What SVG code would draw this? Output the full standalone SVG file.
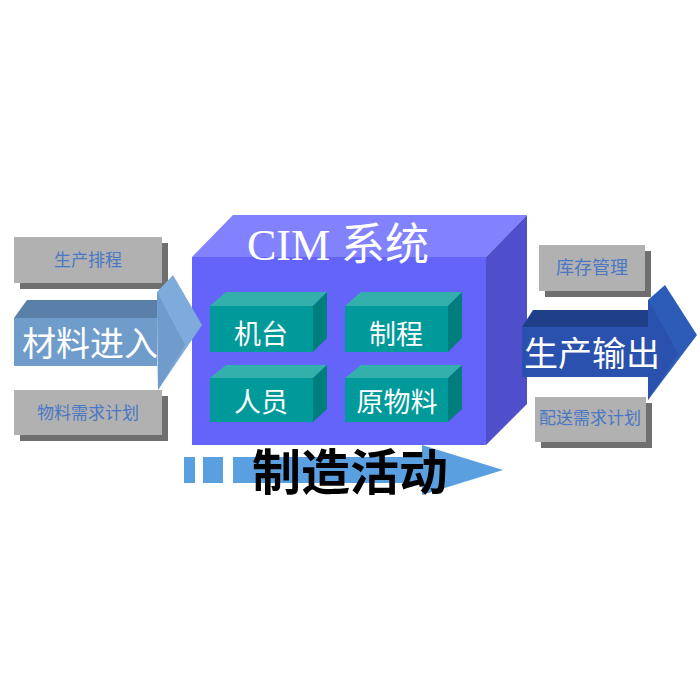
<svg xmlns="http://www.w3.org/2000/svg" width="700" height="700" viewBox="0 0 700 700">
<style>
.gbox{fill:#b1b1b1}
.gshadow{fill:#6f6f6f}
.glabel{font-family:"Noto Sans CJK SC","Noto Sans",sans-serif;font-size:17px;fill:#4a78c4;text-anchor:middle}
.big{font-family:"Noto Sans CJK SC","Noto Sans",sans-serif;font-size:34px;fill:#ffffff;text-anchor:middle}
.tfront{fill:#009a9a}
.ttop{fill:#34b0ac}
.tside{fill:#007d7d}
.tlabel{font-family:"Noto Sans CJK SC","Noto Sans",sans-serif;font-size:27px;fill:#ffffff;text-anchor:middle}
</style>
<rect width="700" height="700" fill="#ffffff"/>

<g id="flow-arrow">
<rect x="184" y="457" width="11" height="26" fill="#5aa0e0"/>
<rect x="203" y="457" width="20" height="26" fill="#5aa0e0"/>
<polygon points="233,457 422,457 422,445 503,470 422,495 422,483 233,483" fill="#5aa0e0"/>
</g>

<g id="box-schedule">
<rect class="gshadow" x="20" y="243" width="148" height="46"/>
<rect class="gbox" x="14" y="237" width="148" height="46"/>
<text class="glabel" x="88" y="266">生产排程</text>
</g>
<g id="box-mrp">
<rect class="gshadow" x="20" y="396" width="148" height="45"/>
<rect class="gbox" x="14" y="390" width="148" height="45"/>
<text class="glabel" x="88" y="419">物料需求计划</text>
</g>
<g id="box-inventory">
<rect class="gshadow" x="545" y="251" width="106" height="46"/>
<rect class="gbox" x="539" y="245" width="106" height="46"/>
<text class="glabel" x="592" y="274" style="font-size:18px">库存管理</text>
</g>
<g id="box-drp">
<rect class="gshadow" x="541" y="403" width="111" height="45"/>
<rect class="gbox" x="535" y="397" width="111" height="45"/>
<text class="glabel" x="590" y="424">配送需求计划</text>
</g>

<g id="cim-system">
<polygon points="192,257 233,215 527,215 486,257" fill="#8282ff"/>
<polygon points="486,257 527,215 527,404 486,445" fill="#4f4fcc"/>
<rect x="192" y="257" width="294" height="188" fill="#6464fa"/>
<text x="338" y="260" text-anchor="middle" fill="#ffffff" font-size="44" font-family="'Liberation Serif','Noto Sans CJK SC',serif">CIM 系统</text>
</g>

<g id="input-arrow">
<polygon points="14,318 27,300 157,300 157,318" fill="#5a80aa"/>
<rect x="14" y="318" width="143" height="48" fill="#6f9ccb"/>
<polygon points="157,292 173,275 202,325 158,390" fill="#7eabdb"/>
<polygon points="157,292 185,345 158,390" fill="#6f9ccb"/>
<text class="big" x="90" y="356">材料进入</text>
</g>

<g id="output-arrow">
<polygon points="522,327 533,310 648,310 648,327" fill="#1f3f88"/>
<rect x="522" y="327" width="126" height="50" fill="#2a51ad"/>
<polygon points="648,300 665,285 697,335 648,400" fill="#2d5cb8"/>
<polygon points="648,300 678,353 648,400" fill="#2a51ad"/>
<text class="big" x="592" y="366">生产输出</text>
</g>

<g id="node-machine">
<polygon class="ttop" points="210,306 226,292 327,292 313,306"/>
<polygon class="tside" points="313,306 327,292 327,338 313,352"/>
<rect class="tfront" x="210" y="306" width="103" height="46"/>
<text class="tlabel" x="261" y="344">机台</text>
</g>
<g id="node-process">
<polygon class="ttop" points="345,306 361,292 462,292 448,306"/>
<polygon class="tside" points="448,306 462,292 462,338 448,352"/>
<rect class="tfront" x="345" y="306" width="103" height="46"/>
<text class="tlabel" x="396" y="344">制程</text>
</g>
<g id="node-staff">
<polygon class="ttop" points="210,378 226,365 327,365 313,378"/>
<polygon class="tside" points="313,378 327,365 327,409 313,422"/>
<rect class="tfront" x="210" y="378" width="103" height="44"/>
<text class="tlabel" x="261" y="412">人员</text>
</g>
<g id="node-material">
<polygon class="ttop" points="345,378 361,365 462,365 448,378"/>
<polygon class="tside" points="448,378 462,365 462,409 448,422"/>
<rect class="tfront" x="345" y="378" width="103" height="44"/>
<text class="tlabel" x="397" y="412">原物料</text>
</g>

<g id="flow-label">
<text x="350" y="490" text-anchor="middle" fill="#000000" font-size="49" font-weight="bold" font-family="'Noto Sans CJK SC',sans-serif">制造活动</text>
</g>
</svg>
